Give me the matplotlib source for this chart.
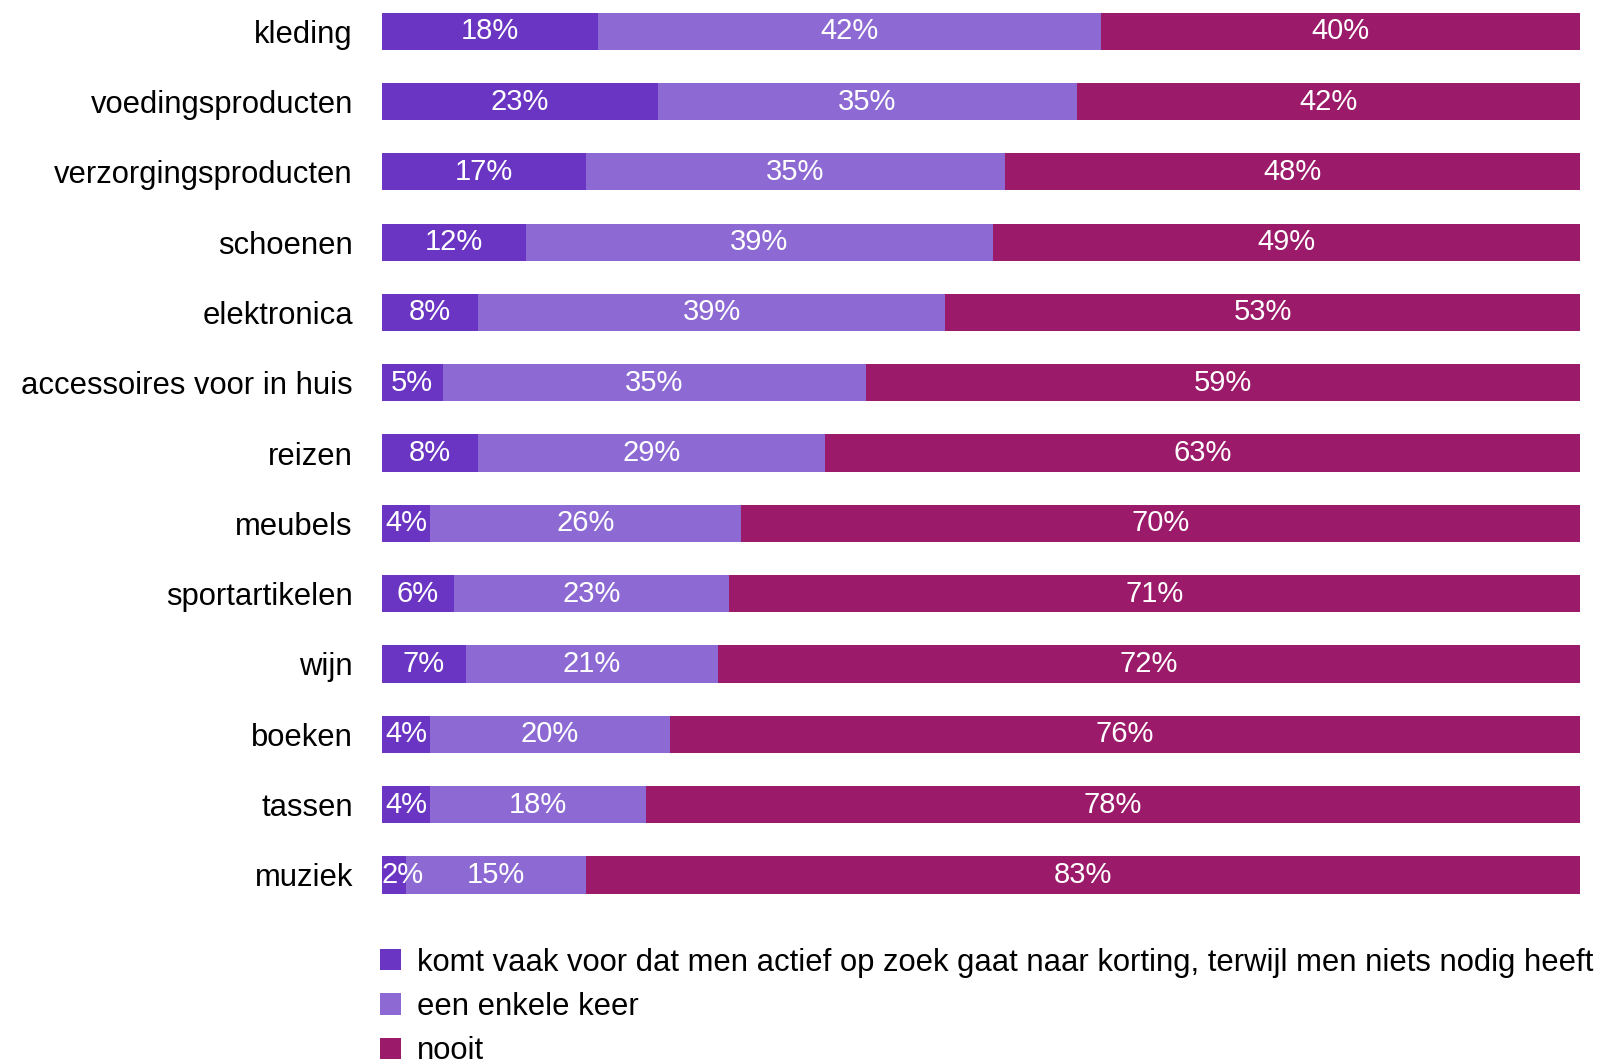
import numpy as np
import matplotlib.pyplot as plt
from matplotlib.patches import Patch

plt.rcParams['font.family'] = ['Liberation Sans', 'DejaVu Sans']

categories = ['kleding', 'voedingsproducten', 'verzorgingsproducten', 'schoenen',
              'elektronica', 'accessoires voor in huis', 'reizen', 'meubels',
              'sportartikelen', 'wijn', 'boeken', 'tassen', 'muziek']
vaak = [18, 23, 17, 12, 8, 5, 8, 4, 6, 7, 4, 4, 2]
enkele = [42, 35, 35, 39, 39, 35, 29, 26, 23, 21, 20, 18, 15]
nooit = [40, 42, 48, 49, 53, 59, 63, 70, 71, 72, 76, 78, 83]

series_labels = ['komt vaak voor dat men actief op zoek gaat naar korting, terwijl men niets nodig heeft',
                 'een enkele keer', 'nooit']
colors = ['#6A35C3', '#8D6AD3', '#9B1A6A']

data = np.array([vaak, enkele, nooit], dtype=float)
# rows of rounded percentages don't always add up to 100, scale each bar to full width
shares = data / data.sum(axis=0) * 100

fig = plt.figure(figsize=(16.02, 10.64), dpi=100)
ax = fig.add_axes([0.2385, 0.1447, 0.7478, 0.855])

y = np.arange(len(categories))
left = np.zeros(len(categories))
for vals, shr, col in zip(data, shares, colors):
    ax.barh(y, shr, left=left, height=0.53, color=col, edgecolor='none')
    for yi, v, s, l in zip(y, vals, shr, left):
        x = max(l + s / 2, l + 1.75)
        ax.text(x, yi, f'{v:.0f}%', ha='center', va='center',
                color='white', fontsize=21)
    left += shr

ax.set_xlim(0, 100)
ax.set_ylim(12.5, -0.44)
ax.set_yticks(y)
ax.set_yticklabels(categories, fontsize=22.3)
ax.set_xticks([])
ax.tick_params(axis='y', length=0, pad=21)
for sp in ax.spines.values():
    sp.set_visible(False)

handles = [Patch(facecolor=c, edgecolor='none') for c in colors]
fig.legend(handles, series_labels, loc='upper left', bbox_to_anchor=(0.2295, 0.121),
           frameon=False, fontsize=22.3, handlelength=0.68, handleheight=0.68,
           handletextpad=0.5, labelspacing=0.46, borderaxespad=0)

fig.savefig('out.png', dpi=100)
